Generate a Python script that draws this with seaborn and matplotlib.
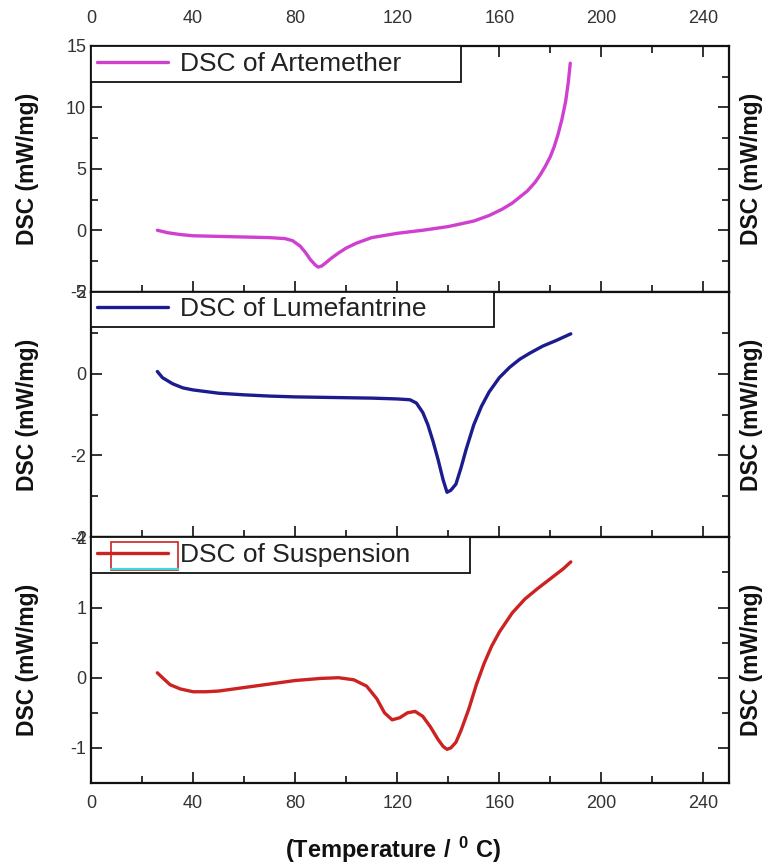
import numpy as np
import pandas as pd
import matplotlib
matplotlib.use("Agg")
import matplotlib.pyplot as plt
from matplotlib.patches import Rectangle
from matplotlib.lines import Line2D
from matplotlib.ticker import MultipleLocator
import seaborn as sns

# ---------------- data ----------------
art_temp = [26, 30, 35, 40, 50, 60, 70, 76, 79, 82, 84, 86, 88, 89, 90.5, 92, 94, 97, 100,
            104, 110, 120, 130, 140, 150, 156, 161, 165, 168, 171, 174, 176, 178, 180, 181.5,
            183, 184.5, 186, 187, 187.8]
art_dsc = [0.0, -0.2, -0.35, -0.45, -0.5, -0.55, -0.6, -0.68, -0.85, -1.3, -1.8, -2.4, -2.85,
           -3.0, -2.9, -2.65, -2.3, -1.85, -1.45, -1.05, -0.6, -0.25, 0.0, 0.3, 0.75, 1.2,
           1.7, 2.2, 2.7, 3.2, 3.9, 4.5, 5.2, 6.0, 6.8, 7.8, 9.0, 10.5, 12.0, 13.6]

lum_temp = [26, 28, 32, 36, 40, 50, 60, 70, 80, 90, 100, 110, 120, 125, 127.5, 130, 132, 134,
            136, 138, 139.5, 141, 143, 145, 147, 150, 153, 156, 160, 164, 168, 172, 177, 182,
            188]
lum_dsc = [0.05, -0.1, -0.25, -0.35, -0.4, -0.48, -0.52, -0.55, -0.57, -0.58, -0.59, -0.6,
           -0.62, -0.64, -0.72, -0.95, -1.25, -1.65, -2.1, -2.6, -2.9, -2.85, -2.7, -2.3,
           -1.85, -1.25, -0.8, -0.45, -0.1, 0.15, 0.35, 0.5, 0.67, 0.8, 0.97]

sus_temp = [26, 28, 31, 35, 40, 45, 50, 60, 70, 80, 90, 97, 103, 108, 112, 115, 118, 121, 124,
            127, 130, 133, 136, 138, 139.5, 141, 143, 145, 148, 151, 154, 157, 160, 165, 170,
            175, 180, 185, 188]
sus_dsc = [0.07, 0.0, -0.1, -0.16, -0.2, -0.2, -0.19, -0.14, -0.09, -0.04, -0.01, 0.0, -0.03,
           -0.12, -0.3, -0.5, -0.6, -0.57, -0.5, -0.48, -0.55, -0.7, -0.88, -0.98, -1.02,
           -1.0, -0.92, -0.75, -0.45, -0.1, 0.2, 0.45, 0.65, 0.92, 1.12, 1.27, 1.41, 1.55,
           1.65]

labels = ["DSC of Artemether", "DSC of Lumefantrine", "DSC of Suspension"]
colors = ["#d040d0", "#1c1c8f", "#cc2222"]
ylims = [(-5, 15), (-4, 2), (-1.5, 2)]
ymajor = [5, 2, 1]
yminor = [2.5, 1, 0.5]
xticks = [0, 40, 80, 120, 160, 200, 240]
ylabel = "DSC (mW/mg)"
xlabel = r"$\mathbf{(Temperature\ /\ ^{0}\ C)}$"

series = [(art_temp, art_dsc), (lum_temp, lum_dsc), (sus_temp, sus_dsc)]
legend_widths = [0.58, 0.632, 0.594]

# ---------------- style ----------------
sns.set_theme(style="ticks")
plt.rcParams["font.family"] = ["Liberation Sans", "DejaVu Sans"]
plt.rcParams["mathtext.fontset"] = "custom"
plt.rcParams["mathtext.rm"] = "Liberation Sans"
plt.rcParams["mathtext.bf"] = "Liberation Sans:bold"
plt.rcParams["axes.unicode_minus"] = False

W, H = 778, 867
fig = plt.figure(figsize=(W / 100, H / 100), dpi=100)
gs = fig.add_gridspec(3, 1, left=91 / W, right=729 / W, top=1 - 46 / H, bottom=1 - 783 / H,
                      hspace=0)
axes = [fig.add_subplot(gs[i]) for i in range(3)]

for i, ax in enumerate(axes):
    x, y = series[i]
    df = pd.DataFrame({"T": x, "DSC": y})
    sns.lineplot(data=df, x="T", y="DSC", ax=ax, color=colors[i], lw=2.4, sort=False,
                 label=labels[i])
    ax.set_xlim(0, 250)
    ax.set_ylim(*ylims[i])
    ax.xaxis.set_major_locator(MultipleLocator(40))
    ax.xaxis.set_minor_locator(MultipleLocator(20))
    ax.yaxis.set_major_locator(MultipleLocator(ymajor[i]))
    ax.yaxis.set_minor_locator(MultipleLocator(yminor[i]))
    ax.set_xlabel("")
    ax.set_ylabel("")
    for s in ax.spines.values():
        s.set_linewidth(1.6)
        s.set_color("#111111")
    ax.tick_params(which="both", direction="in", right=True, top=(i == 0), bottom=True,
                   labelbottom=(i == 2), labeltop=(i == 0), color="#111111", width=1.2)
    ax.tick_params(which="major", length=8, labelsize=13, labelcolor="#333333")
    ax.tick_params(which="minor", length=5)
    ax.tick_params(axis="x", which="major", pad=9)
    if i == 0:
        ax.tick_params(axis="x", which="major", top=True, pad=14)
    ax.text(-0.099, 0.5, ylabel, transform=ax.transAxes, rotation=90, ha="center",
            va="center", fontsize=16.5, fontweight="bold", color="#111111")
    ax.text(1.036, 0.5, ylabel, transform=ax.transAxes, rotation=90, ha="center",
            va="center", fontsize=16.5, fontweight="bold", color="#111111")
    leg = ax.legend(loc="upper left", bbox_to_anchor=(0, 0, legend_widths[i], 1.0),
                    mode="expand", borderaxespad=0, fontsize=19, frameon=True,
                    fancybox=False, framealpha=1, edgecolor="#111111", borderpad=0.22,
                    handlelength=2.7, handletextpad=0.45)
    leg.get_frame().set_linewidth(1.3)
    for t in leg.get_texts():
        t.set_color("#222222")
    for h in leg.get_lines():
        h.set_linewidth(2.4)
    ax.set_xticks(xticks)

# odd legend handle artifact in the bottom panel
ax3 = axes[2]
ax3.add_patch(Rectangle((0.031, 0.868), 0.105, 0.112, transform=ax3.transAxes,
                        fill=False, edgecolor="#cc2222", lw=1.2, zorder=6))
ax3.add_line(Line2D([0.031, 0.136], [0.87, 0.87], transform=ax3.transAxes,
                    color="#40d8d8", lw=1.6, zorder=6))

fig.text(393 / W, 1 - 850 / H, xlabel, ha="center", va="center", fontsize=17,
         color="#111111")

fig.savefig("out.png", dpi=100, facecolor="white")
